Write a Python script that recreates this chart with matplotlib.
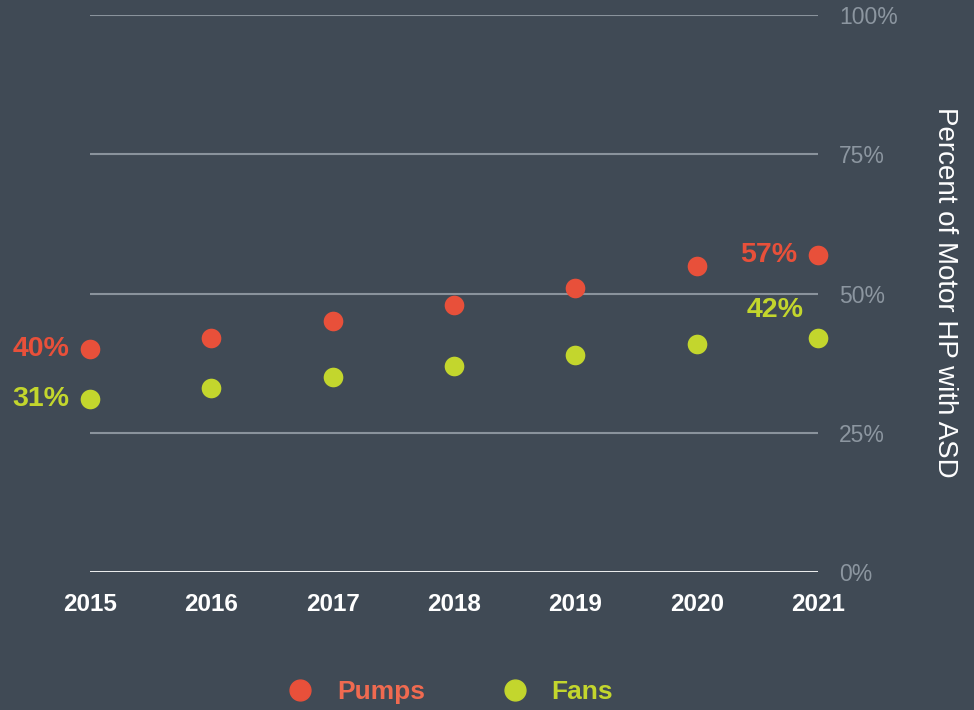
import matplotlib.pyplot as plt
from matplotlib.lines import Line2D

years = [2015, 2016, 2017, 2018, 2019, 2020, 2021]
pumps = [40, 42, 45, 48, 51, 55, 57]
fans = [31, 33, 35, 37, 39, 41, 42]
yticks = [0, 25, 50, 75, 100]

BG = '#404a55'
RED = '#e8503a'
RED_TXT = '#f06a50'
LIME = '#c3d62d'
GRID = '#8a939c'
TICK = '#8c96a0'

plt.rcParams['font.family'] = ['Liberation Sans', 'DejaVu Sans']

fig = plt.figure(figsize=(9.74, 7.10), dpi=100, facecolor=BG)
ax = fig.add_axes([90/974, 138/710, 728/974, 557/710])
ax.set_facecolor(BG)

ax.set_xlim(years[0], years[-1])
ax.set_ylim(0, 100)
for s in ax.spines.values():
    s.set_visible(False)

for t in yticks[1:]:
    ax.axhline(t, color=GRID, lw=1.5, zorder=1)
ax.axhline(0, color='white', lw=2, zorder=1)

ax.scatter(years, pumps, s=200, color=RED, zorder=3, clip_on=False, linewidths=0)
ax.scatter(years, fans, s=200, color=LIME, zorder=3, clip_on=False, linewidths=0)

ax.set_xticks(years)
ax.set_xticklabels([str(y) for y in years], fontsize=17.5, fontweight='bold', color='white')
ax.yaxis.tick_right()
ax.set_yticks(yticks)
ax.set_yticklabels([f'{t}%' for t in yticks], fontsize=16.5, color=TICK)
ax.tick_params(axis='x', length=0, pad=15)
ax.tick_params(axis='y', length=0, pad=15)

# first and last value labels
kw = dict(fontsize=20.5, fontweight='bold', textcoords='offset points', va='center')
ax.annotate(f'{pumps[0]}%', (years[0], pumps[0]), xytext=(-15, 0), ha='right', color=RED, **kw)
ax.annotate(f'{fans[0]}%', (years[0], fans[0]), xytext=(-15, 0), ha='right', color=LIME, **kw)
ax.annotate(f'{pumps[-1]}%', (years[-1], pumps[-1]), xytext=(-15, 0), ha='right', color=RED, **kw)
ax.annotate(f'{fans[-1]}%', (years[-1], fans[-1]), xytext=(-10, 20), ha='right', color=LIME, **kw)

fig.text(945/974, 1 - 292/710, 'Percent of Motor HP with ASD', rotation=270,
         ha='center', va='center', fontsize=20, color='white')

handles = [Line2D([], [], marker='o', ls='', ms=15, color=RED, mec=RED),
           Line2D([], [], marker='o', ls='', ms=15, color=LIME, mec=LIME)]
leg = fig.legend(handles, ['Pumps', 'Fans'], loc='center', bbox_to_anchor=(450/974, 1 - 692/710),
                 ncol=2, frameon=False, prop={'size': 19, 'weight': 'bold'},
                 handletextpad=0.9, columnspacing=2.9, handlelength=1.0)
for txt, c in zip(leg.get_texts(), [RED_TXT, LIME]):
    txt.set_color(c)

fig.savefig('out.png', dpi=100, facecolor=BG)
